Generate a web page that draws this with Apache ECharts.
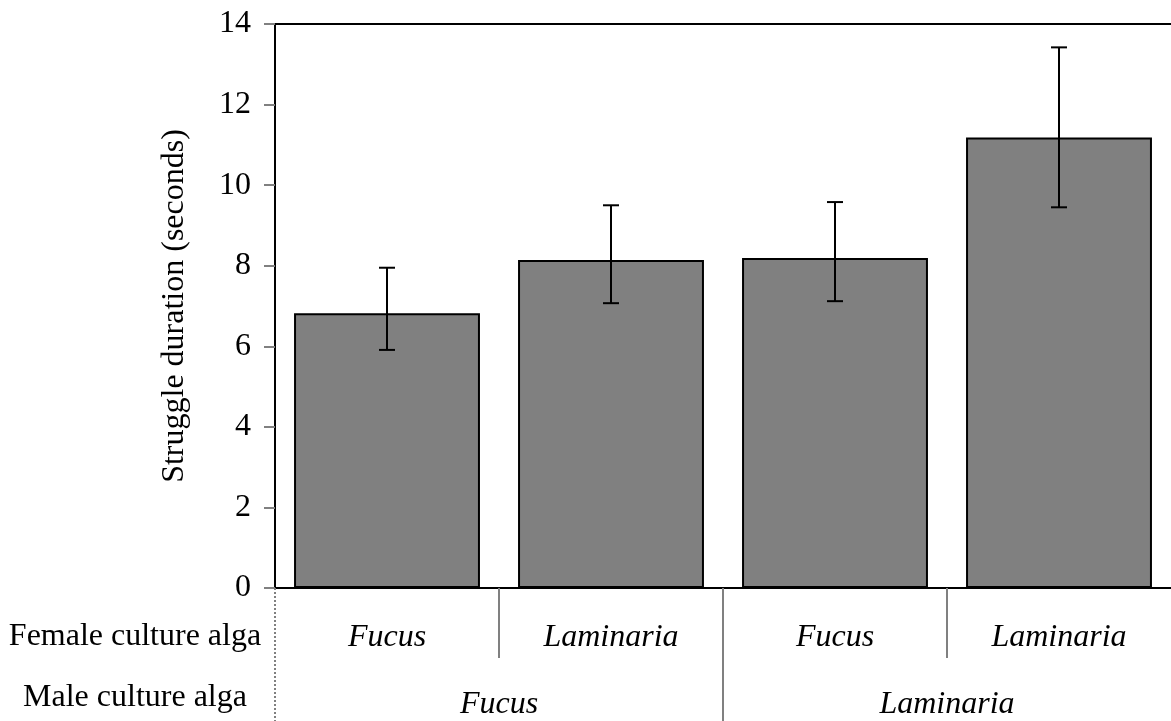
<!DOCTYPE html>
<html>
<head>
<meta charset="utf-8">
<script src="https://cdn.jsdelivr.net/npm/echarts@6/dist/echarts.min.js"></script>
<style>
  html, body { margin: 0; padding: 0; background: #fff; }
  #chart { width: 1171px; height: 721px; }
</style>
</head>
<body>
<div id="chart"></div>
<script>
var femaleAlga = ['Fucus', 'Laminaria', 'Fucus', 'Laminaria'];
var maleAlga = ['Fucus', 'Laminaria'];
var rowNames = ['Female culture alga', 'Male culture alga'];
var meanDuration = [6.82, 8.14, 8.19, 11.18];
var errLow = [5.91, 7.07, 7.12, 9.45];
var errHigh = [7.95, 9.50, 9.58, 13.42];
var yTicks = [0, 2, 4, 6, 8, 10, 12, 14];
// group boundaries, counted in bar slots from the left edge
var femaleSeparators = [1, 3];
var maleSeparators = [2];
var outerSeparators = [0];

var serif = '"Liberation Serif", "Times New Roman", serif';
var chart = echarts.init(document.getElementById('chart'));

var errData = meanDuration.map(function (v, i) {
  return [i, errLow[i], errHigh[i]];
});

function separatorAxis(values, len, type) {
  return {
    type: 'value',
    min: 0,
    max: femaleAlga.length,
    position: 'bottom',
    axisLine: { show: false },
    splitLine: { show: false },
    axisLabel: { show: false },
    axisTick: {
      show: true,
      length: len,
      customValues: values,
      lineStyle: { color: '#808080', width: 2, type: type }
    }
  };
}

var option = {
  animation: false,
  backgroundColor: '#fff',
  grid: { left: 275, top: 24, width: 898, height: 564 },
  xAxis: [
    {
      type: 'category',
      data: femaleAlga,
      position: 'bottom',
      axisLine: { lineStyle: { color: '#000', width: 2 } },
      axisTick: { show: false },
      axisLabel: {
        margin: 34, fontFamily: serif, fontSize: 32, fontStyle: 'italic', color: '#000'
      }
    },
    {
      type: 'category',
      data: maleAlga,
      position: 'bottom',
      axisLine: { show: false },
      axisTick: { show: false },
      axisLabel: {
        margin: 101, fontFamily: serif, fontSize: 32, fontStyle: 'italic', color: '#000'
      }
    },
    separatorAxis(femaleSeparators, 70, 'solid'),
    separatorAxis(maleSeparators, 133, 'solid'),
    separatorAxis(outerSeparators, 133, 'dotted'),
    {
      // top frame line of the plot area
      type: 'value',
      min: 0,
      max: femaleAlga.length,
      position: 'top',
      axisLine: { show: true, lineStyle: { color: '#000', width: 2 } },
      axisTick: { show: false },
      axisLabel: { show: false },
      splitLine: { show: false }
    }
  ],
  yAxis: {
    type: 'value',
    min: yTicks[0],
    max: yTicks[yTicks.length - 1],
    interval: 2,
    name: 'Struggle duration (seconds)',
    nameLocation: 'middle',
    nameGap: 84,
    nameTextStyle: { fontFamily: serif, fontSize: 32, color: '#000' },
    axisLine: { show: true, lineStyle: { color: '#000', width: 2 } },
    axisTick: { show: true, length: 11, lineStyle: { color: '#808080', width: 2 } },
    axisLabel: { margin: 24, fontFamily: serif, fontSize: 32, color: '#000' },
    splitLine: { show: false }
  },
  graphic: rowNames.map(function (t, i) {
    return {
      type: 'text',
      x: 135,
      y: i === 0 ? 637 : 698,
      style: {
        text: t,
        font: '32px ' + serif,
        fill: '#000',
        textAlign: 'center',
        textVerticalAlign: 'middle'
      }
    };
  }),
  series: [
    {
      type: 'bar',
      xAxisIndex: 0,
      data: meanDuration,
      barCategoryGap: '17%',
      itemStyle: { color: '#808080', borderColor: '#000', borderWidth: 2 }
    },
    {
      type: 'custom',
      xAxisIndex: 0,
      data: errData,
      z: 10,
      renderItem: function (params, api) {
        var lo = api.coord([api.value(0), api.value(1)]);
        var hi = api.coord([api.value(0), api.value(2)]);
        var x = Math.round(lo[0]);
        var half = 8;
        var st = { stroke: '#000', lineWidth: 2 };
        return {
          type: 'group',
          children: [
            { type: 'line', shape: { x1: x, y1: lo[1], x2: x, y2: hi[1] }, style: st },
            { type: 'line', shape: { x1: x - half, y1: lo[1], x2: x + half, y2: lo[1] }, style: st },
            { type: 'line', shape: { x1: x - half, y1: hi[1], x2: x + half, y2: hi[1] }, style: st }
          ]
        };
      }
    }
  ]
};
chart.setOption(option);
</script>
</body>
</html>
